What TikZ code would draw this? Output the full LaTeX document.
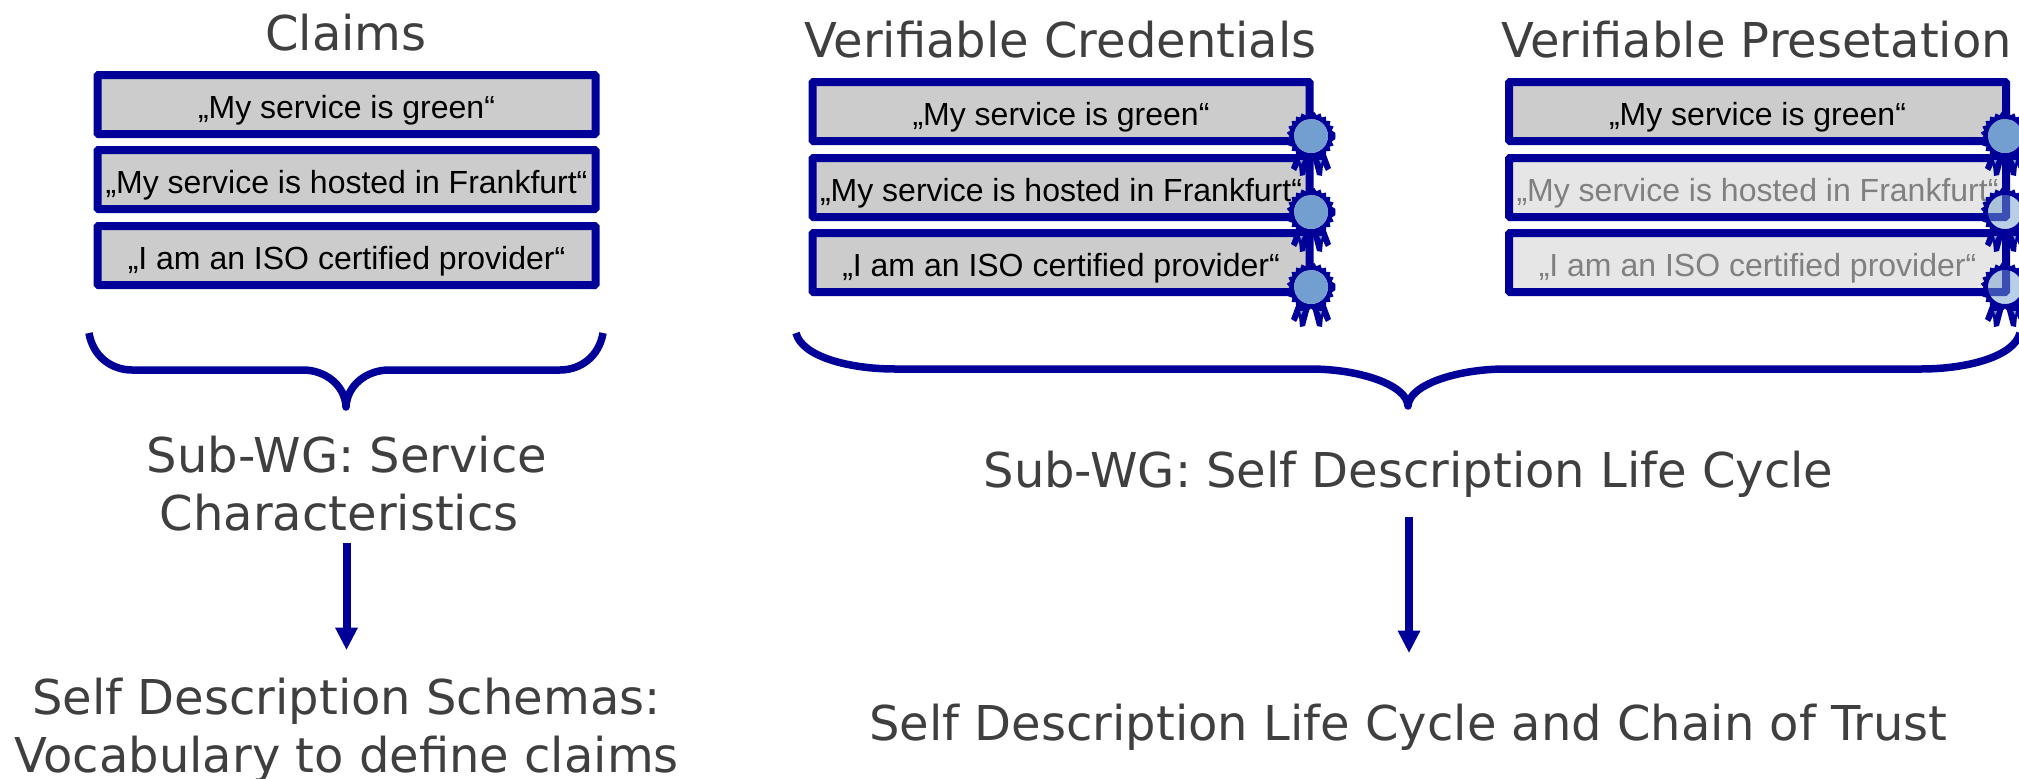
\documentclass[tikz,border=0pt]{standalone}
\usepackage{fontspec}
\setmainfont{Liberation Sans}
\newfontfamily\headfont{DejaVu Sans}
\usetikzlibrary{arrows.meta}
\definecolor{navy}{HTML}{000099}
\definecolor{seal}{HTML}{729FCF}
\definecolor{boxgrey}{HTML}{CCCCCC}
\definecolor{boxpale}{HTML}{E6E6E6}
\definecolor{headtext}{HTML}{3F3F3F}
\tikzset{
  x=1pt,y=-1pt,
  claim/.style={draw=navy,line width=8pt,fill=boxgrey,rounded corners=1pt,minimum width=#1,minimum height=59pt,inner sep=0pt,text=black,font=\fontsize{32}{38}\selectfont,anchor=north west,outer sep=0pt,text height=27pt,text depth=0pt},
  faded/.style={fill=boxpale,text=black!50},
  head/.style={text=headtext,font=\headfont\fontsize{48}{58}\selectfont,inner sep=0pt,align=center},
  brace/.style={draw=navy,line width=7.5pt,line join=round},
  flow/.style={draw=navy,line width=8pt,-{Triangle[length=22pt,width=23pt,line width=0pt]}},
}
\newcommand{\rosette}[3]{%
\begin{scope}[shift={(#1,#2)}]
  \fill[navy] (-14,16) -- (-1,20) -- (-6,39) -- (-11,40) -- (-12,29) -- (-15,35) -- (-20,32) -- cycle;
  \fill[navy] (14,16) -- (1,20) -- (6,39) -- (11,40) -- (12,29) -- (15,35) -- (20,32) -- cycle;
  \fill[seal] (-11,24) -- (-8,24) -- (-10,28) -- cycle;
  \fill[seal] (11,24) -- (8,24) -- (10,28) -- cycle;
  \fill[navy,even odd rule]
    (0:24.5)
    \foreach \a in {7.5,15,...,352.5}{ -- ({\a}:{24.5-3*(1+cos(24*\a))/2}) } -- cycle
    (0,0) circle (17pt);
  \fill[seal,opacity=#3] (0,0) circle (17pt);
\end{scope}}
\begin{document}
\begin{tikzpicture}
\useasboundingbox (0,0) rectangle (2019,779);
\clip (0,0) rectangle (2019,779);
% Claims column
\node[head] (claims) at (346,33) {Claims};
\node[claim=498pt] (c1) at (97.5,75) {„My service is green“};
\node[claim=498pt] (c2) at (97.5,150) {„My service is hosted in Frankfurt“};
\node[claim=498pt] (c3) at (97.5,226) {„I am an ISO certified provider“};
\draw[brace] (89,333) .. controls (93,357) and (112,370) .. (132,370) -- (303,370)
  .. controls (325,370) and (345,385) .. (346,407)
  .. controls (347,385) and (367,370) .. (389,370) -- (560,370)
  .. controls (580,370) and (599,357) .. (603,333);
\node[head] (sub1) at (347,484) {Sub-WG: Service\\Characteristics\hspace*{15.5pt}};
\node[head] (schema) at (346.5,730) {Self Description Schemas:\\Vocabulary to define claims};
\draw[flow,shorten <=11pt,shorten >=28pt] (sub1.south -| 346.5,0) -- (schema.north -| 346.5,0);
% Credentials column
\node[head] (vc) at (1060.5,40) {Verifiable Credentials};
\node[claim=497pt] (v1) at (812.5,82) {„My service is green“};
\node[claim=497pt] (v2) at (812.5,158) {„My service is hosted in Frankfurt“};
\node[claim=497pt] (v3) at (812.5,233) {„I am an ISO certified provider“};
\rosette{1311}{136}{1}
\rosette{1311}{212}{1}
\rosette{1311}{287}{1}
% Presentation column
\node[head] (vp) at (1756.5,40) {Verifiable Presetation};
\node[claim=497pt] (p1) at (1509,82) {„My service is green“};
\node[claim=497pt,faded] (p2) at (1509,158) {„My service is hosted in Frankfurt“};
\node[claim=497pt,faded] (p3) at (1509,233) {„I am an ISO certified provider“};
\rosette{2005}{136}{1}
\rosette{2005}{212}{.5}
\rosette{2005}{287}{.5}
\draw[brace] (796,333) .. controls (802,357) and (850,369) .. (895,369) -- (1310,369)
  .. controls (1360,369) and (1407,385) .. (1408,406)
  .. controls (1409,385) and (1456,369) .. (1506,369) -- (1921,369)
  .. controls (1966,369) and (2014,357) .. (2020,333);
\node[head] (sub2) at (1408.5,474) {Sub-WG: Self Description Life Cycle};
\node[head] (chain) at (1408.5,727) {Self Description Life Cycle and Chain of Trust};
\draw[flow,shorten <=19.5pt,shorten >=51pt] (sub2.south -| 1409,0) -- (chain.north -| 1409,0);
\end{tikzpicture}
\end{document}
